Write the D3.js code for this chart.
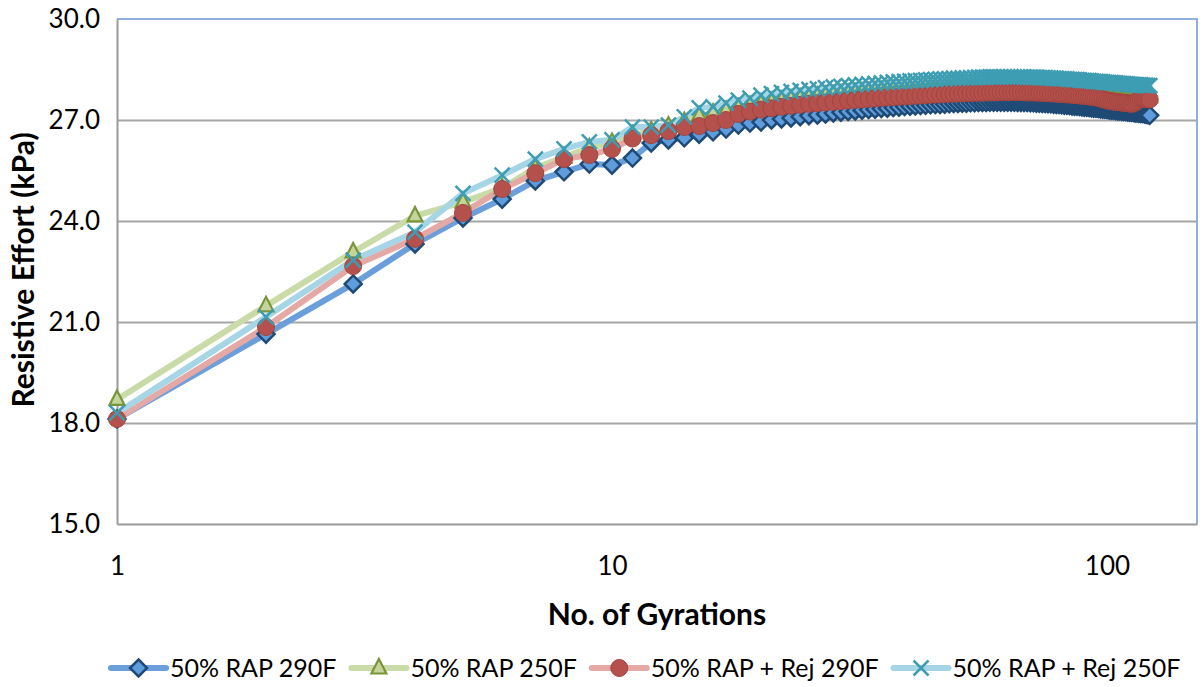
<!DOCTYPE html>
<html>
<head>
<meta charset="utf-8">
<script src="https://cdn.jsdelivr.net/npm/d3@7"></script>
<style>
  html, body { margin: 0; padding: 0; background: #ffffff; }
  svg { display: block; }
  text { font-family: Lato, "Open Sans", sans-serif; fill: #000; }
</style>
</head>
<body>
<svg id="chart" width="1204" height="687"></svg>
<script>
// Resistive effort (kPa) per gyration; gyration number = position in the array + 1
const rap290 = [
  18.12, 20.64, 22.13, 23.32, 24.09, 24.65, 25.19, 25.46, 25.69, 25.66,
  25.87, 26.32, 26.41, 26.47, 26.58, 26.65, 26.73, 26.85, 26.91, 26.94,
  27.00, 27.03, 27.06, 27.10, 27.13, 27.15, 27.18, 27.21, 27.23, 27.25,
  27.27, 27.29, 27.31, 27.32, 27.34, 27.35, 27.37, 27.38, 27.40, 27.41,
  27.42, 27.43, 27.44, 27.45, 27.46, 27.46, 27.47, 27.48, 27.49, 27.49,
  27.50, 27.50, 27.51, 27.51, 27.52, 27.52, 27.52, 27.53, 27.53, 27.53,
  27.53, 27.53, 27.53, 27.53, 27.53, 27.52, 27.52, 27.52, 27.52, 27.51,
  27.51, 27.50, 27.50, 27.49, 27.49, 27.48, 27.48, 27.47, 27.46, 27.46,
  27.45, 27.44, 27.44, 27.43, 27.42, 27.41, 27.41, 27.40, 27.39, 27.38,
  27.38, 27.37, 27.36, 27.35, 27.35, 27.34, 27.33, 27.32, 27.32, 27.31,
  27.30, 27.29, 27.29, 27.28, 27.27, 27.27, 27.26, 27.25, 27.25, 27.24,
  27.23, 27.23, 27.22, 27.21, 27.21, 27.20, 27.19, 27.19, 27.18, 27.17,
  27.16, 27.14
];
const rap250 = [
  18.70, 21.48, 23.08, 24.15, 24.56, 24.98, 25.57, 25.90, 26.17, 26.33,
  26.55, 26.68, 26.82, 26.95, 27.12, 27.20, 27.28, 27.36, 27.42, 27.48,
  27.53, 27.57, 27.61, 27.64, 27.67, 27.70, 27.72, 27.74, 27.76, 27.78,
  27.80, 27.82, 27.83, 27.85, 27.86, 27.88, 27.89, 27.90, 27.91, 27.92,
  27.93, 27.94, 27.95, 27.95, 27.96, 27.97, 27.97, 27.98, 27.98, 27.99,
  27.99, 28.00, 28.00, 28.00, 28.01, 28.01, 28.01, 28.02, 28.02, 28.02,
  28.02, 28.02, 28.02, 28.02, 28.02, 28.01, 28.01, 28.01, 28.01, 28.00,
  28.00, 28.00, 27.99, 27.99, 27.98, 27.98, 27.97, 27.97, 27.96, 27.96,
  27.95, 27.95, 27.94, 27.93, 27.93, 27.92, 27.91, 27.91, 27.90, 27.89,
  27.89, 27.88, 27.87, 27.86, 27.86, 27.85, 27.84, 27.83, 27.83, 27.82,
  27.81, 27.80, 27.80, 27.79, 27.78, 27.77, 27.77, 27.76, 27.75, 27.75,
  27.74, 27.73, 27.73, 27.72, 27.72, 27.71, 27.71, 27.70, 27.70, 27.70,
  27.69, 27.69
];
const rapRej290 = [
  18.12, 20.85, 22.66, 23.47, 24.24, 24.95, 25.42, 25.84, 25.96, 26.14,
  26.45, 26.55, 26.67, 26.79, 26.82, 26.91, 27.00, 27.18, 27.25, 27.31,
  27.35, 27.39, 27.42, 27.45, 27.48, 27.50, 27.52, 27.54, 27.56, 27.58,
  27.60, 27.61, 27.63, 27.64, 27.66, 27.67, 27.68, 27.69, 27.70, 27.71,
  27.72, 27.73, 27.74, 27.75, 27.76, 27.76, 27.77, 27.78, 27.78, 27.79,
  27.79, 27.80, 27.80, 27.81, 27.81, 27.81, 27.82, 27.82, 27.82, 27.82,
  27.83, 27.83, 27.83, 27.83, 27.83, 27.83, 27.83, 27.82, 27.82, 27.82,
  27.82, 27.81, 27.81, 27.81, 27.80, 27.80, 27.79, 27.79, 27.78, 27.78,
  27.77, 27.77, 27.76, 27.76, 27.75, 27.74, 27.74, 27.73, 27.72, 27.72,
  27.71, 27.70, 27.69, 27.68, 27.67, 27.66, 27.64, 27.62, 27.60, 27.58,
  27.57, 27.56, 27.55, 27.54, 27.53, 27.53, 27.52, 27.51, 27.51, 27.50,
  27.49, 27.48, 27.49, 27.52, 27.56, 27.60, 27.62, 27.63, 27.63, 27.62,
  27.62, 27.61
];
const rapRej250 = [
  18.30, 21.15, 22.84, 23.67, 24.82, 25.36, 25.84, 26.14, 26.35, 26.41,
  26.79, 26.79, 26.85, 27.09, 27.36, 27.39, 27.50, 27.59, 27.65, 27.74,
  27.78, 27.82, 27.85, 27.88, 27.91, 27.93, 27.96, 27.98, 28.00, 28.02,
  28.04, 28.06, 28.07, 28.09, 28.10, 28.12, 28.13, 28.14, 28.15, 28.16,
  28.17, 28.18, 28.19, 28.20, 28.21, 28.22, 28.22, 28.23, 28.24, 28.24,
  28.25, 28.25, 28.26, 28.26, 28.27, 28.27, 28.27, 28.28, 28.28, 28.28,
  28.28, 28.28, 28.28, 28.28, 28.28, 28.28, 28.28, 28.28, 28.27, 28.27,
  28.27, 28.27, 28.26, 28.26, 28.26, 28.25, 28.25, 28.24, 28.24, 28.23,
  28.23, 28.22, 28.22, 28.21, 28.21, 28.20, 28.20, 28.19, 28.18, 28.18,
  28.17, 28.17, 28.16, 28.15, 28.15, 28.14, 28.14, 28.13, 28.12, 28.12,
  28.11, 28.11, 28.10, 28.10, 28.09, 28.09, 28.08, 28.08, 28.07, 28.07,
  28.06, 28.06, 28.05, 28.05, 28.04, 28.04, 28.04, 28.03, 28.03, 28.03,
  28.02, 28.02
];

const seriesNames = ["50% RAP 290F", "50% RAP 250F", "50% RAP + Rej 290F", "50% RAP + Rej 250F"];
const yTickValues = [15, 18, 21, 24, 27, 30];
const xTickValues = [1, 10, 100];
const xTitle = "No. of Gyrations";
const yTitle = "Resistive Effort (kPa)";

const seriesValues = [rap290, rap250, rapRej290, rapRej250];
const styles = [
  { line: "#6a9fdc", marker: "diamond",  fill: "#5e9cdc", stroke: "#1f4a75" },
  { line: "#c9dba6", marker: "triangle", fill: "#c3d59a", stroke: "#7b963a" },
  { line: "#e4a8a5", marker: "circle",   fill: "#b4514d", stroke: "#a5443f" },
  { line: "#a6d6e6", marker: "cross",    fill: "none",    stroke: "#3d9db3" }
];

const svg = d3.select("#chart");
const plot = { left: 117, right: 1197, top: 19, bottom: 524 };

const x = d3.scaleLog().domain([1, 152]).range([plot.left, plot.right]);
const y = d3.scaleLinear().domain([15, 30]).range([plot.bottom, plot.top]);

// plot frame (top and right edges)
svg.append("path")
  .attr("d", `M${plot.left},${plot.top}H${plot.right}V${plot.bottom}`)
  .attr("fill", "none").attr("stroke", "#8fb0dc").attr("stroke-width", 2);

// horizontal gridlines
svg.append("g")
  .attr("transform", `translate(${plot.left},0)`)
  .call(d3.axisLeft(y).tickValues(yTickValues.slice(1, -1)).tickSize(-(plot.right - plot.left)).tickFormat(""))
  .call(g => g.select(".domain").remove())
  .call(g => g.selectAll("line").attr("stroke", "#a6a6a6").attr("stroke-width", 2));

// y axis
const yAxis = svg.append("g")
  .attr("transform", `translate(${plot.left},0)`)
  .call(d3.axisLeft(y).tickValues(yTickValues).tickFormat(d3.format(".1f")).tickSize(0).tickPadding(17));
yAxis.select(".domain").attr("stroke", "#9a9a9a").attr("stroke-width", 2);
yAxis.selectAll("text").style("font-size", "26px").style("font-family", "Lato");

// x axis
const xAxis = svg.append("g")
  .attr("transform", `translate(0,${plot.bottom})`)
  .call(d3.axisBottom(x).tickValues(xTickValues).tickFormat(d3.format("d")).tickSize(0).tickPadding(33));
xAxis.select(".domain").attr("stroke", "#9a9a9a").attr("stroke-width", 2);
xAxis.selectAll("text").style("font-size", "26px").style("font-family", "Lato");

// axis titles
svg.append("text")
  .attr("x", 657).attr("y", 625)
  .attr("text-anchor", "middle")
  .style("font-size", "30px").style("font-weight", "bold")
  .text(xTitle);
svg.append("text")
  .attr("transform", "translate(34,270) rotate(-90)")
  .attr("text-anchor", "middle")
  .style("font-size", "30px").style("font-weight", "bold")
  .text(yTitle);

// marker shapes
function drawMarker(sel, style) {
  if (style.marker === "diamond") {
    sel.append("path").attr("d", "M0,-8.5L8.5,0L0,8.5L-8.5,0Z")
      .attr("fill", style.fill).attr("stroke", style.stroke).attr("stroke-width", 2.5);
  } else if (style.marker === "triangle") {
    sel.append("path").attr("d", "M0,-9L7.5,5.5L-7.5,5.5Z")
      .attr("fill", style.fill).attr("stroke", style.stroke).attr("stroke-width", 2.2);
  } else if (style.marker === "circle") {
    sel.append("circle").attr("r", 8.5)
      .attr("fill", style.fill).attr("stroke", style.stroke).attr("stroke-width", 1);
  } else {
    sel.append("path").attr("d", "M-7.5,-7.5L7.5,7.5M-7.5,7.5L7.5,-7.5")
      .attr("fill", "none").attr("stroke", style.stroke).attr("stroke-width", 2.5);
  }
}

const line = d3.line()
  .x((d, i) => x(i + 1))
  .y(d => y(d));

// lines first, then markers, in series order
const linesG = svg.append("g");
seriesValues.forEach((vals, s) => {
  linesG.append("path")
    .datum(vals)
    .attr("d", line)
    .attr("fill", "none")
    .attr("stroke", styles[s].line)
    .attr("stroke-width", 6)
    .attr("stroke-linejoin", "round")
    .attr("stroke-linecap", "round");
});
seriesValues.forEach((vals, s) => {
  const g = svg.append("g");
  g.selectAll("g.m")
    .data(vals)
    .join("g")
    .attr("class", "m")
    .attr("transform", (d, i) => `translate(${x(i + 1)},${y(d)})`)
    .each(function () { drawMarker(d3.select(this), styles[s]); });
});

// legend
const legend = svg.append("g");
let lx = 111;
const ly = 668;
seriesNames.forEach((name, s) => {
  const item = legend.append("g");
  item.append("line")
    .attr("x1", lx).attr("x2", lx + 55).attr("y1", ly).attr("y2", ly)
    .attr("stroke", styles[s].line).attr("stroke-width", 6).attr("stroke-linecap", "round");
  const mg = item.append("g").attr("transform", `translate(${lx + 27.5},${ly})`);
  drawMarker(mg, styles[s]);
  const t = item.append("text")
    .attr("x", lx + 59).attr("y", ly + 9)
    .style("font-size", "25px")
    .text(name);
  lx += 59 + t.node().getComputedTextLength() + 15;
});
</script>
</body>
</html>
